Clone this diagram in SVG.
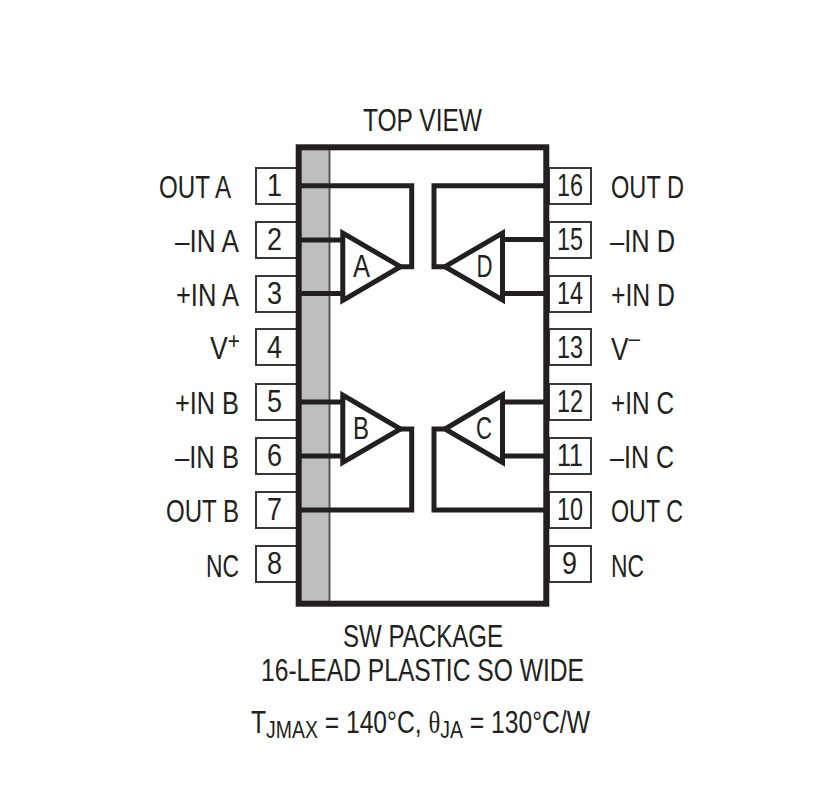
<svg xmlns="http://www.w3.org/2000/svg" width="825" height="810" viewBox="0 0 825 810">
<style>
text{font-family:"Liberation Sans",Arial,sans-serif;font-size:30.500px;fill:#231f20}
.sup{font-size:24px}
.theta{font-family:"Liberation Serif",serif}
.pin{fill:#fff;stroke:#3a3738;stroke-width:2}
.w{fill:none;stroke:#231f20;stroke-width:5;stroke-linejoin:miter}
.amp{fill:#fff;stroke:#231f20;stroke-width:5;stroke-linejoin:miter}
</style>
<rect width="825" height="810" fill="#fff"/>
<text x="363" y="130.500" textLength="119" lengthAdjust="spacingAndGlyphs">TOP VIEW</text>
<g id="pins-left">
<g id="pin1"><rect class="pin" x="256" y="168" width="42" height="36"/><text x="267" y="196" textLength="15" lengthAdjust="spacingAndGlyphs">1</text><text x="159" y="197.500" textLength="72" lengthAdjust="spacingAndGlyphs">OUT A</text></g>
<g id="pin2"><rect class="pin" x="256" y="222" width="42" height="36"/><text x="267" y="250" textLength="15" lengthAdjust="spacingAndGlyphs">2</text><text x="175" y="251.500" textLength="64" lengthAdjust="spacingAndGlyphs">–IN A</text></g>
<g id="pin3"><rect class="pin" x="256" y="276" width="42" height="36"/><text x="267" y="304" textLength="15" lengthAdjust="spacingAndGlyphs">3</text><text x="176" y="305.500" textLength="63" lengthAdjust="spacingAndGlyphs">+IN A</text></g>
<g id="pin4"><rect class="pin" x="256" y="329" width="42" height="36"/><text x="267" y="358" textLength="15" lengthAdjust="spacingAndGlyphs">4</text><text x="210" y="358.500" textLength="30" lengthAdjust="spacingAndGlyphs">V<tspan class="sup" dy="-10">+</tspan></text></g>
<g id="pin5"><rect class="pin" x="256" y="384" width="42" height="36"/><text x="267" y="412" textLength="15" lengthAdjust="spacingAndGlyphs">5</text><text x="175" y="413.500" textLength="64" lengthAdjust="spacingAndGlyphs">+IN B</text></g>
<g id="pin6"><rect class="pin" x="256" y="438" width="42" height="36"/><text x="267" y="466" textLength="15" lengthAdjust="spacingAndGlyphs">6</text><text x="175" y="467.500" textLength="64" lengthAdjust="spacingAndGlyphs">–IN B</text></g>
<g id="pin7"><rect class="pin" x="256" y="492" width="42" height="36"/><text x="267" y="520" textLength="15" lengthAdjust="spacingAndGlyphs">7</text><text x="166" y="521.500" textLength="73" lengthAdjust="spacingAndGlyphs">OUT B</text></g>
<g id="pin8"><rect class="pin" x="256" y="546" width="42" height="36"/><text x="267" y="574" textLength="15" lengthAdjust="spacingAndGlyphs">8</text><text x="206" y="576.500" textLength="33" lengthAdjust="spacingAndGlyphs">NC</text></g>
</g>
<g id="pins-right">
<g id="pin16"><rect class="pin" x="549" y="168" width="42" height="36"/><text x="557" y="196" textLength="26" lengthAdjust="spacingAndGlyphs">16</text><text x="611" y="197.500" textLength="73" lengthAdjust="spacingAndGlyphs">OUT D</text></g>
<g id="pin15"><rect class="pin" x="549" y="222" width="42" height="36"/><text x="557" y="250" textLength="26" lengthAdjust="spacingAndGlyphs">15</text><text x="610" y="251.500" textLength="65" lengthAdjust="spacingAndGlyphs">–IN D</text></g>
<g id="pin14"><rect class="pin" x="549" y="276" width="42" height="36"/><text x="557" y="304" textLength="26" lengthAdjust="spacingAndGlyphs">14</text><text x="611" y="305.500" textLength="64" lengthAdjust="spacingAndGlyphs">+IN D</text></g>
<g id="pin13"><rect class="pin" x="549" y="329" width="42" height="36"/><text x="557" y="358" textLength="26" lengthAdjust="spacingAndGlyphs">13</text><text x="611" y="359.500" textLength="29" lengthAdjust="spacingAndGlyphs">V<tspan class="sup" dy="-14">–</tspan></text></g>
<g id="pin12"><rect class="pin" x="549" y="384" width="42" height="36"/><text x="557" y="412" textLength="26" lengthAdjust="spacingAndGlyphs">12</text><text x="611" y="413.500" textLength="63" lengthAdjust="spacingAndGlyphs">+IN C</text></g>
<g id="pin11"><rect class="pin" x="549" y="438" width="42" height="36"/><text x="557" y="466" textLength="26" lengthAdjust="spacingAndGlyphs">11</text><text x="610" y="467.500" textLength="64" lengthAdjust="spacingAndGlyphs">–IN C</text></g>
<g id="pin10"><rect class="pin" x="549" y="492" width="42" height="36"/><text x="557" y="520" textLength="26" lengthAdjust="spacingAndGlyphs">10</text><text x="611" y="521.500" textLength="72" lengthAdjust="spacingAndGlyphs">OUT C</text></g>
<g id="pin9"><rect class="pin" x="549" y="546" width="42" height="36"/><text x="562" y="574" textLength="15" lengthAdjust="spacingAndGlyphs">9</text><text x="611" y="576.500" textLength="33" lengthAdjust="spacingAndGlyphs">NC</text></g>
</g>
<g id="package">
<rect x="298.700" y="147.300" width="247.600" height="456.400" fill="#fff"/>
<rect x="301" y="150" width="29" height="451" fill="#bcbec0"/>
<line x1="329.500" y1="150" x2="329.500" y2="601" stroke="#58595b" stroke-width="2"/>
<rect x="298.700" y="147.300" width="247.600" height="456.400" fill="none" stroke="#231f20" stroke-width="6"/>
</g>
<g id="connectors">
<path class="w" d="M300 185.700H411.700V266.700H400"/>
<path class="w" d="M300 240H344M300 293.500H344"/>
<path class="w" d="M546 185.700H434V266.700H445"/>
<path class="w" d="M546 239.500H502M546 293.500H502"/>
<path class="w" d="M300 402H344M300 456H344"/>
<path class="w" d="M300 510H411.700V429H400"/>
<path class="w" d="M546 402H502M546 456H502"/>
<path class="w" d="M546 510H434V429H445"/>
</g>
<g id="ampA"><path class="amp" d="M342.800 233V300.500L400.500 266.700Z"/><text x="353" y="277" textLength="17" lengthAdjust="spacingAndGlyphs">A</text></g>
<g id="ampD"><path class="amp" d="M502.500 233V300L445 266.700Z"/><text x="476.500" y="277" textLength="16" lengthAdjust="spacingAndGlyphs">D</text></g>
<g id="ampB"><path class="amp" d="M342.800 395V462.500L400.500 429Z"/><text x="353" y="439" textLength="16" lengthAdjust="spacingAndGlyphs">B</text></g>
<g id="ampC"><path class="amp" d="M502.500 395V462.500L445 429Z"/><text x="476" y="439" textLength="16" lengthAdjust="spacingAndGlyphs">C</text></g>
<text x="343" y="647" textLength="160" lengthAdjust="spacingAndGlyphs">SW PACKAGE</text>
<text x="261" y="681" textLength="323" lengthAdjust="spacingAndGlyphs">16-LEAD PLASTIC SO WIDE</text>
<text x="251" y="733" textLength="339" lengthAdjust="spacingAndGlyphs">T<tspan class="sup" dy="5">JMAX</tspan><tspan dy="-5"> = 140°C, </tspan><tspan class="theta">θ</tspan><tspan class="sup" dy="5">JA</tspan><tspan dy="-5"> = 130°C/W</tspan></text>
</svg>
